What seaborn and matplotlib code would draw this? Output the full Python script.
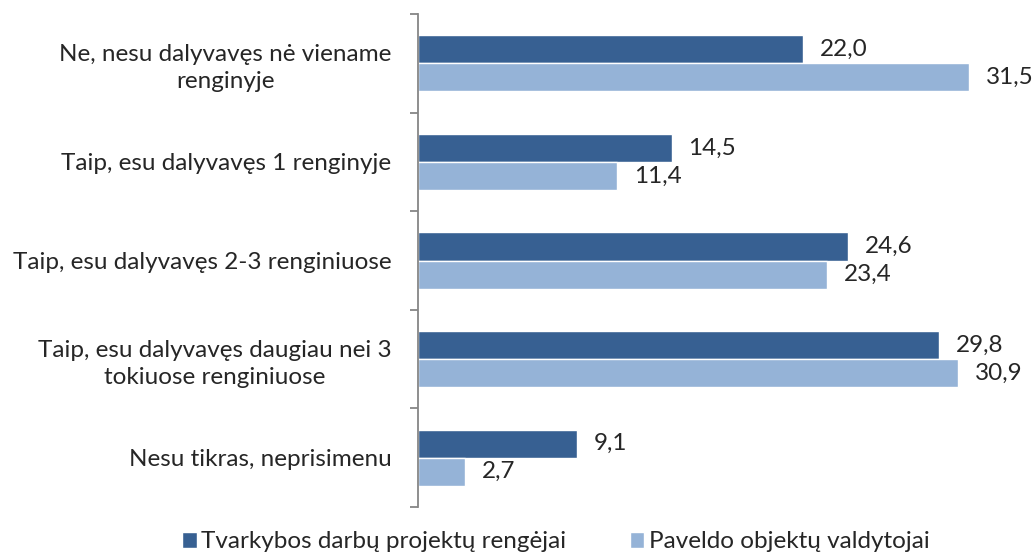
import seaborn as sns
import matplotlib.pyplot as plt
import pandas as pd

categories = [
    "Ne, nesu dalyvavęs nė viename\nrenginyje",
    "Taip, esu dalyvavęs 1 renginyje",
    "Taip, esu dalyvavęs 2-3 renginiuose",
    "Taip, esu dalyvavęs daugiau nei 3\ntokiuose renginiuose",
    "Nesu tikras, neprisimenu",
]
series_names = ["Tvarkybos darbų projektų rengėjai", "Paveldo objektų valdytojai"]
tvarkybos = [22.0, 14.5, 24.6, 29.8, 9.1]
paveldo = [31.5, 11.4, 23.4, 30.9, 2.7]
colors = ["#376092", "#95B3D7"]

df = pd.DataFrame({
    "category": categories * 2,
    "series": [series_names[0]] * 5 + [series_names[1]] * 5,
    "value": tvarkybos + paveldo,
})

sns.set_style("white")
plt.rcParams['font.family'] = ['Lato', 'DejaVu Sans']
fs = 17.5

fig = plt.figure(figsize=(10.34, 5.56), dpi=100)
ax = fig.add_axes([418 / 1034, 1 - 507 / 556, 35 * 17.49 / 1034, (507 - 14) / 556])

sns.barplot(data=df, y="category", x="value", hue="series", orient="h",
            palette=colors, width=0.57, gap=0, ax=ax, legend=True, saturation=1)

ax.set_xlim(0, 35)
ax.set_ylim(4.5, -0.5)
ax.set_xlabel("")
ax.set_ylabel("")
ax.set_xticks([])

for side in ["top", "right", "bottom"]:
    ax.spines[side].set_visible(False)
ax.spines["left"].set_color("#868686")
ax.spines["left"].set_linewidth(1.3)

ax.set_yticks(range(len(categories)))
ax.set_yticklabels(categories, fontsize=fs)
for lbl in ax.get_yticklabels():
    lbl.set_multialignment("center")
    lbl.set_linespacing(1.35)
ax.tick_params(axis="y", which="major", length=0, pad=19)
ax.set_yticks([i - 0.5 for i in range(len(categories) + 1)], minor=True)
ax.tick_params(axis="y", which="minor", left=True, length=6, width=1.3,
               color="#868686", direction="out")

for container in ax.containers:
    ax.bar_label(container, labels=[f"{v:.1f}".replace(".", ",") for v in container.datavalues],
                 padding=12, fontsize=fs)

handles, labels = ax.get_legend_handles_labels()
ax.get_legend().remove()
fig.legend(handles, labels, loc="center", bbox_to_anchor=(556 / 1034, 1 - 542 / 556), ncol=2,
           frameon=False, fontsize=fs, handlelength=0.6, handleheight=0.6,
           handletextpad=0.2, columnspacing=2.6)

fig.savefig("out.png", dpi=100)
